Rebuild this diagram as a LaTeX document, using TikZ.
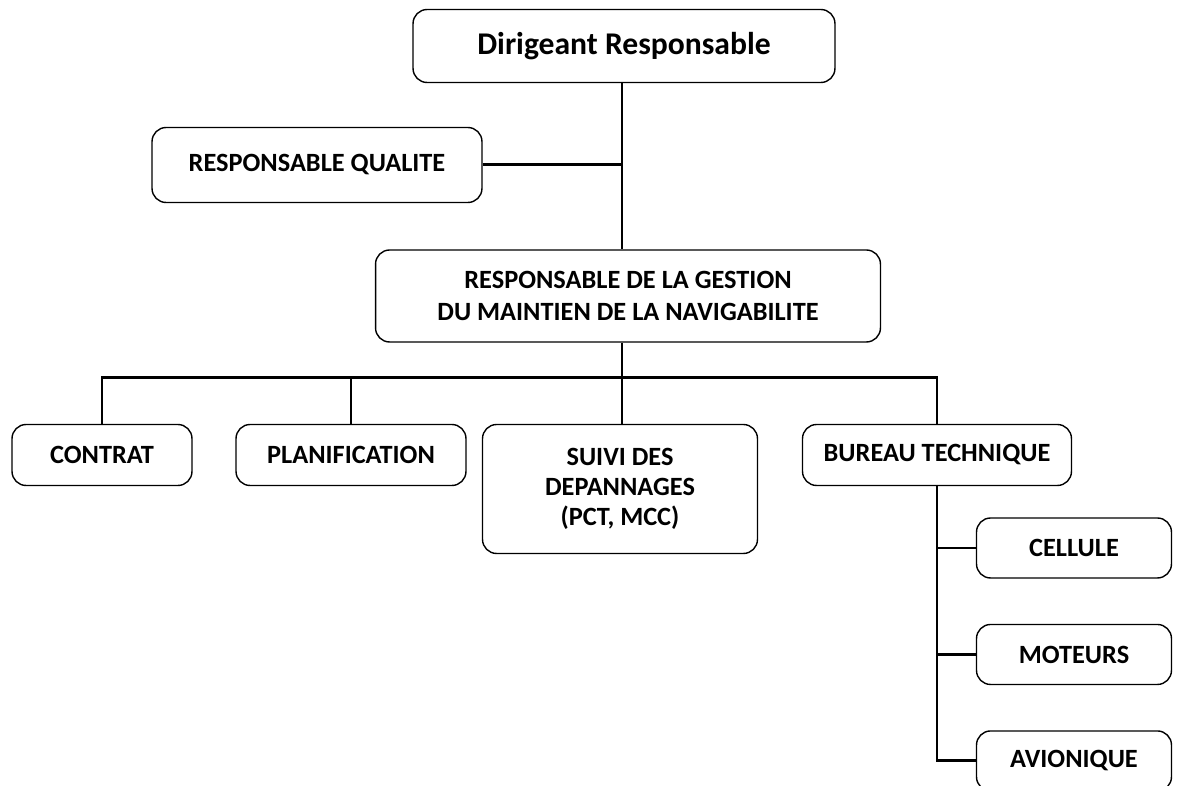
\documentclass[tikz,border=0pt]{standalone}
\usepackage{fontspec}
\setmainfont{Carlito}
\usetikzlibrary{positioning}

\begin{document}
\begin{tikzpicture}[x=0.02cm,y=-0.02cm,node distance=2.13cm,
	org node/.style={rectangle,rounded corners=8pt,draw,line width=0.8pt,
		font=\bfseries\fontsize{15}{18}\selectfont,align=center,inner sep=2pt},
	link/.style={line width=1.7pt}]
	\useasboundingbox (0,0) rectangle (1178,786);
	
	\node[org node,minimum width=8.44cm,minimum height=1.46cm,
		font=\bfseries\fontsize{18}{22}\selectfont] (dir) at (624,46) {Dirigeant Responsable};
	\node[org node,minimum width=6.6cm,minimum height=1.5cm] (qual) at (317,165) {RESPONSABLE QUALITE};
	\node[org node,minimum width=10.1cm,minimum height=1.84cm] (gest) at (628,296)
		{RESPONSABLE DE LA GESTION\\DU MAINTIEN DE LA NAVIGABILITE};
	
	% services
	\node[org node,minimum width=3.6cm,minimum height=1.22cm] (contrat) at (102,455) {CONTRAT};
	\node[org node,minimum width=4.6cm,minimum height=1.22cm] (planif) at (351,455) {PLANIFICATION};
	\node[org node,minimum width=5.5cm,minimum height=2.58cm,
		font=\bfseries\fontsize{15}{17}\selectfont] (suivi) at (620,489) {SUIVI DES\\DEPANNAGES\\(PCT, MCC)};
	\node[org node,minimum width=5.38cm,minimum height=1.22cm] (bureau) at (937,455) {BUREAU TECHNIQUE};
	
	% bureau technique
	\node[org node,minimum width=3.9cm,minimum height=1.2cm] (cellule) at (1074,548) {CELLULE};
	\node[org node,minimum width=3.9cm,minimum height=1.2cm] (moteurs) [below of=cellule] {MOTEURS};
	\node[org node,minimum width=3.9cm,minimum height=1.2cm] (avionique) [below of=moteurs] {AVIONIQUE};
	
	\coordinate (bus) at (622,378);
	\draw[link] (dir.south -| bus) -- (gest.north -| bus);
	\draw[link] (qual.east) -- (qual.east -| bus);
	\draw[link] (gest.south -| bus) -- (suivi.north -| bus);
	\draw[link] (contrat.north) |- (bus);
	\draw[link] (planif.north) |- (bus);
	\draw[link] (bureau.north) |- (bus);
	\draw[link] (bureau.south) |- (avionique.west);
	\draw[link] (cellule.west) -- (cellule.west -| bureau.south);
	\draw[link] (moteurs.west) -- (moteurs.west -| bureau.south);
\end{tikzpicture}
\end{document}
